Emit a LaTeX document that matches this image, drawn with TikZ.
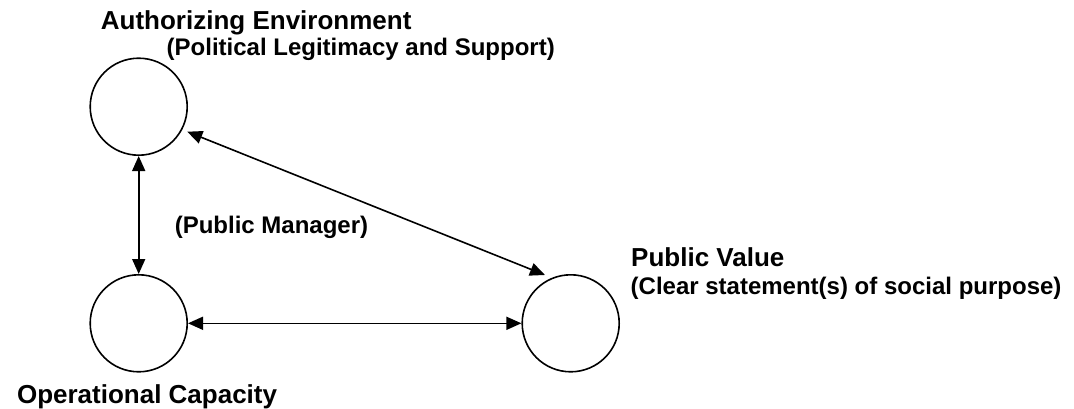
\documentclass[tikz,border=0pt]{standalone}
\usepackage{fontspec}
\setmainfont{Liberation Sans}
\usetikzlibrary{calc,arrows.meta}
\begin{document}
\begin{tikzpicture}[x=1pt,y=1pt,
  circ/.style={draw,circle,line width=1.6pt,minimum size=97pt,inner sep=0pt},
  head/.style={inner sep=0pt,font=\fontsize{26}{30}\selectfont\bfseries},
  sub/.style={inner sep=0pt,font=\fontsize{24}{28}\selectfont\bfseries},
  conn/.style={line width=1.6pt,{Triangle[length=15pt,width=13pt]}-{Triangle[length=15pt,width=13pt]}}]
\useasboundingbox (0,0) rectangle (1074,408);
\node[circ] (A) at (138.7,301.3) {};
\node[circ] (O) at (138.7,84.7) {};
\node[circ] (V) at (570.7,84.7) {};
\coordinate (d1) at ($(A)+(48.6,-25)$);
\coordinate (d2) at ($(V)+(-25.7,48.3)$);
\draw[conn] (A.south) -- (O.north);
\draw[conn] (O.east) -- (V.west);
\draw[conn] (d1) -- (d2);
\node[head,anchor=base west] (t1) at (100.7,378.5) {Authorizing Environment};
\node[sub,anchor=base west] (t2) at (166.5,352.5) {(Political Legitimacy and Support)};
\node[sub,anchor=base west] (t3) at (174.6,174.7) {(Public Manager)};
\node[head,anchor=base west] (t4) at (631,141.3) {Public Value};
\node[sub,anchor=base west] (t5) at (630.5,113.7) {(Clear statement(s) of social purpose)};
\node[head,anchor=base east] (t6) at (277.3,4.7) {Operational Capacity};
\end{tikzpicture}
\end{document}
